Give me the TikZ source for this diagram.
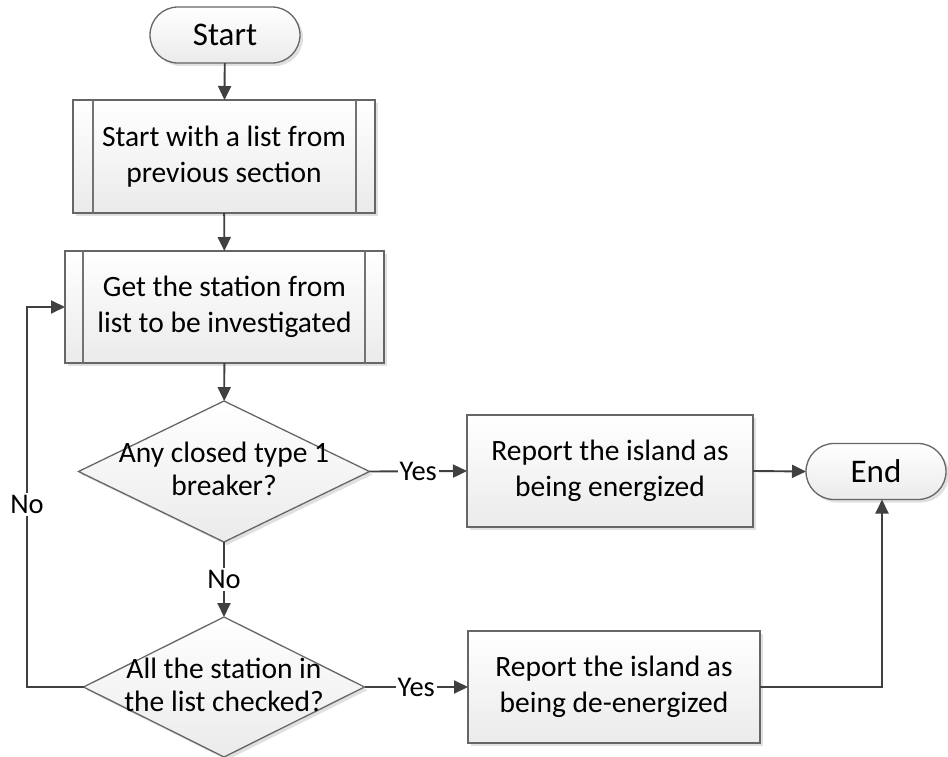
\documentclass[tikz,border=0pt]{standalone}
\usepackage{fontspec}
\setmainfont{Carlito}
\usetikzlibrary{arrows.meta,shapes.geometric,shadows,calc}

\begin{document}
\begin{tikzpicture}[x=1pt,y=-1pt,
  every node/.style={inner sep=0pt, outer sep=0pt},
  shapebase/.style={draw=black!60, line width=1.3pt,
    top color=white, bottom color=black!8,
    drop shadow={shadow xshift=3pt, shadow yshift=-3pt, fill=black!12, opacity=1}},
  terminal/.style={shapebase, rectangle, rounded corners=28pt,
    minimum width=#1, minimum height=56pt,
    font=\fontsize{33}{38}\selectfont},
  procbox/.style={shapebase, rectangle, minimum width=#1, minimum height=112pt,
    align=center, font=\fontsize{29.5}{36}\selectfont},
  decision/.style={shapebase, diamond, minimum width=#1, minimum height=141pt},
  dectext/.style={align=center, font=\fontsize{29.5}{33}\selectfont},
  flowlabel/.style={fill=white, inner sep=2pt, font=\fontsize{28.5}{32}\selectfont},
  flow/.style={draw=black!75, line width=1.9pt,
    -{Triangle[length=14pt,width=13pt]}},
  subline/.style={draw=black!55, line width=1.3pt}
]
\useasboundingbox (0,0) rectangle (948,757);

% start / end terminals
\node[terminal=150pt] (start) at (225,35) {Start};
\node[terminal=140pt] (end) at (876,471.5) {End};

% predefined-process boxes
\node[procbox=302pt, minimum height=113pt] (list) at (224,156.5)
  {Start with a list from\\previous section};
\draw[subline] ($(list.north west)+(20,0)$) -- ($(list.south west)+(20,0)$);
\draw[subline] ($(list.north east)+(-19,0)$) -- ($(list.south east)+(-19,0)$);

\node[procbox=319pt] (get) at (224.5,307)
  {Get the station from\\list to be investigated};
\draw[subline] ($(get.north west)+(18,0)$) -- ($(get.south west)+(18,0)$);
\draw[subline] ($(get.north east)+(-19,0)$) -- ($(get.south east)+(-19,0)$);

% decisions
\node[decision=291pt] (dec1) at (224,471.5) {};
\node[dectext] (dec1t) at (224,469) {Any closed type 1\\breaker?};
\node[decision=281pt, minimum height=140pt] (dec2) at (224,687) {};
\node[dectext] (dec2t) at (224,685) {All the station in\\the list checked?};

% reports
\node[procbox=286pt] (rep1) at (610,471) {Report the island as\\being energized};
\node[procbox=292pt] (rep2) at (614,687) {Report the island as\\being de-energized};

% connectors
\draw[flow] (start) -- (list);
\draw[flow] (list) -- (get);
\draw[flow] (get) -- (dec1);
\draw[flow] (dec1) -- node[flowlabel] (no1) {No} (dec2);
\draw[flow] (dec1.east) -- node[flowlabel] (yes1) {Yes} (rep1.west);
\draw[flow] (dec2.east) -- node[flowlabel] (yes2) {Yes} (rep2.west);
\draw[flow] (rep1.east) -- (end.west);

\coordinate (loopbot) at (27,687);
\coordinate (looptop) at (27,307);
\draw[flow] (dec2.west) -- (loopbot) -- node[flowlabel, pos=0.48] (no2) {No} (looptop) -- (get.west);

\coordinate (endin) at (882,687);
\draw[flow] (rep2.east) -- (endin) -- (endin |- end.south);
\end{tikzpicture}
\end{document}
